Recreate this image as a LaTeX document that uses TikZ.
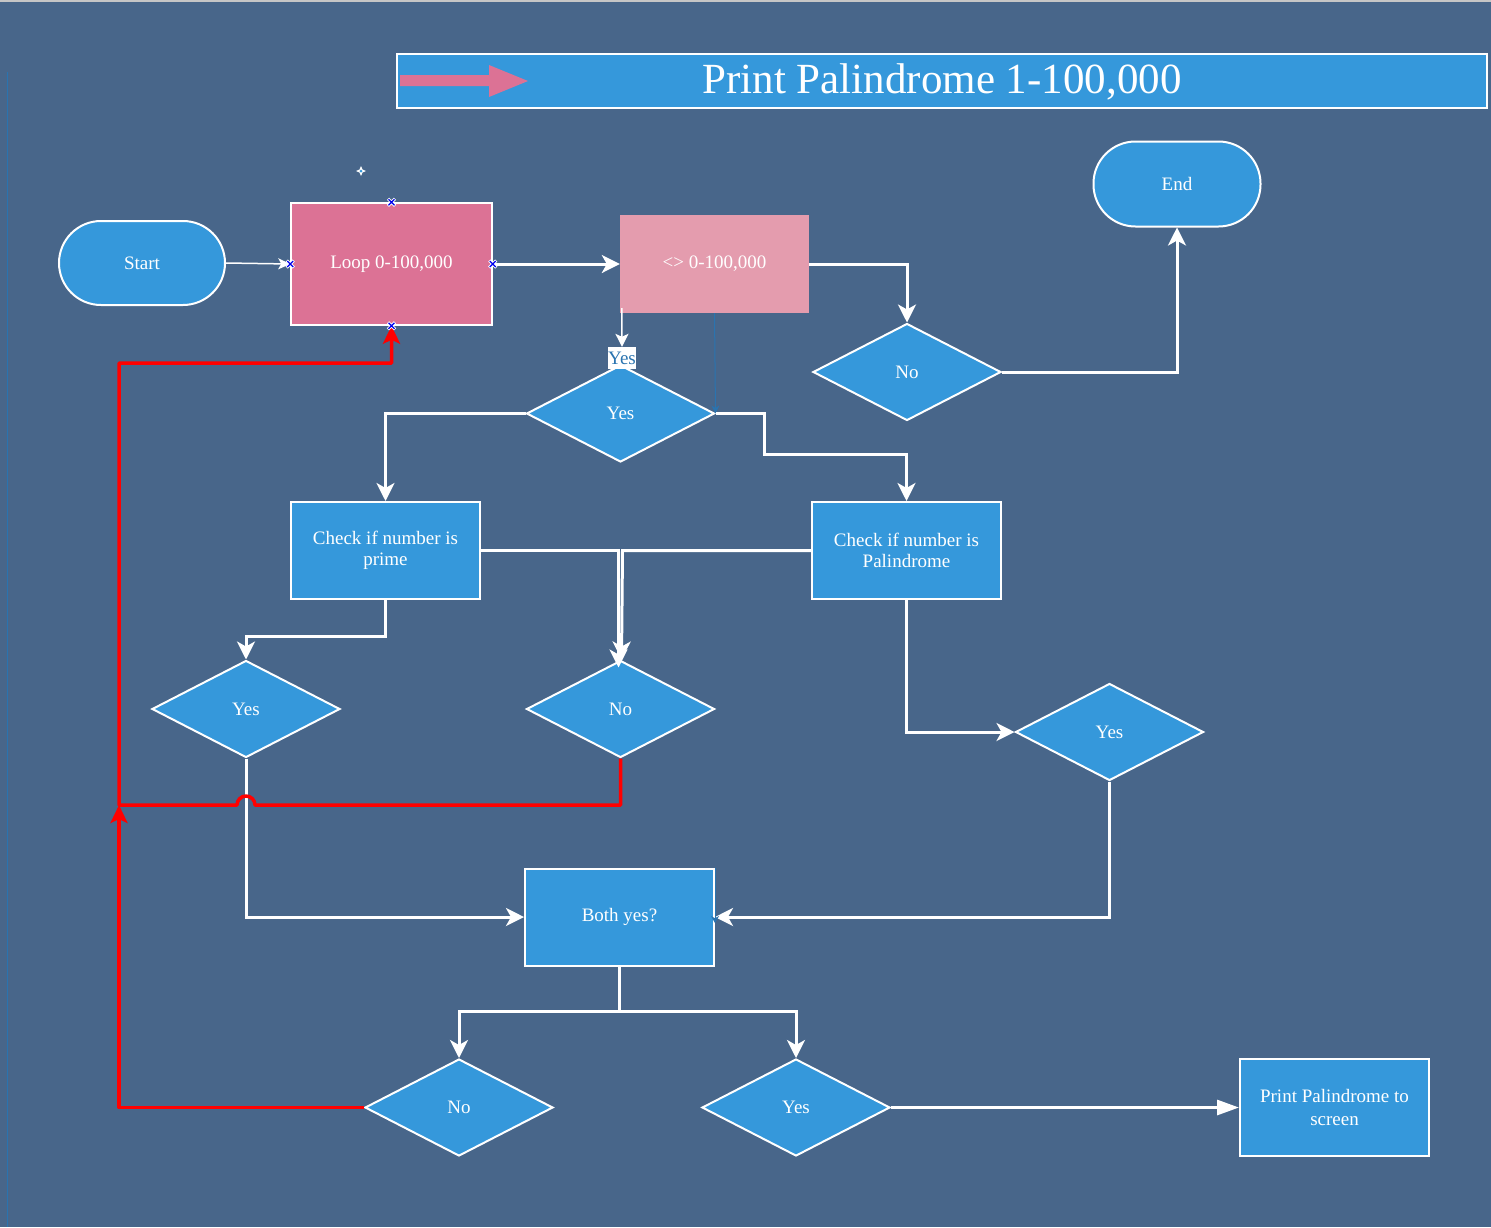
\documentclass[tikz,border=0pt]{standalone}
\usepackage{fontspec}
\setmainfont{Liberation Serif}
\usetikzlibrary{shapes.geometric,arrows.meta,calc}
\definecolor{bgc}{HTML}{48668A}
\definecolor{boxc}{HTML}{3598DB}
\definecolor{loopc}{HTML}{DC7295}
\definecolor{zeroc}{HTML}{E49CAE}
\definecolor{redc}{HTML}{FF0000}
\definecolor{thinblue}{HTML}{2A74B0}
\definecolor{markblue}{HTML}{0000EE}
\tikzset{
  every node/.style={font=\fontsize{19}{23}\selectfont, text=white, align=center},
  procbox/.style={rectangle, draw=white, line width=2pt, fill=boxc, minimum width=189pt, minimum height=97pt, inner sep=0pt},
  decision/.style={diamond, draw=white, line width=2pt, fill=boxc, minimum width=188pt, minimum height=97pt, inner sep=0pt},
  terminal/.style={rectangle, rounded corners=42pt, draw=white, line width=2pt, fill=boxc, minimum width=166pt, minimum height=84pt, inner sep=0pt},
  flow/.style={draw=white, line width=3pt, -{Stealth[length=18pt,width=18pt,inset=5pt]}},
  flowplain/.style={draw=white, line width=3pt},
  redflow/.style={draw=redc, line width=3.5pt, -{Stealth[length=18pt,width=17pt,inset=4pt]}, line join=round},
  xmark/.pic={\draw[white,line width=3pt] (-3.5,-3.5)--(3.5,3.5) (-3.5,3.5)--(3.5,-3.5);
              \draw[markblue,line width=1.2pt] (-3,-3)--(3,3) (-3,3)--(3,-3);}
}
\begin{document}
\begin{tikzpicture}[x=1pt,y=-1pt]
\fill[bgc] (0,0) rectangle (1491,1227);
\useasboundingbox (0,0) rectangle (1491,1227);
\fill[gray!45] (0,0) rectangle (1491,2);
\draw[thinblue,line width=0.6pt] (7,72) -- (7,1227);

% title
\node[rectangle, draw=white, line width=2pt, fill=boxc, minimum width=1090pt, minimum height=54pt, inner sep=0pt] (title) at (942,81) {};
\node[font=\fontsize{43}{50}\selectfont] (ttext) at (942,82) {Print Palindrome 1-100,000};
\fill[loopc] (400,75) -- (489,75) -- (489,65) -- (528,81) -- (489,97) -- (489,86) -- (400,86) -- cycle;

% nodes
\node[terminal] (start) at (142,263) {Start};
\node[terminal, minimum width=167pt, minimum height=85pt] (end) at (1177,184) {End};
\node[rectangle, draw=white, line width=1.5pt, fill=loopc, minimum width=201pt, minimum height=122pt, inner sep=0pt] (loop) at (391.5,264) {\raisebox{-2pt}{Loop 0-100,000}};
\node[rectangle, fill=zeroc, minimum width=189pt, minimum height=98pt, inner sep=0pt] (zero) at (714.5,264) {\raisebox{-2pt}{\textless\textgreater\ 0-100,000}};
\node[decision] (topno) at (907,372) {No};
\node[decision] (topyes) at (620.5,413.5) {Yes};
\node[procbox] (prime) at (385.5,550.5) {\raisebox{-2pt}{Check if number is}\\prime};
\node[procbox] (pal) at (906.5,550.5) {\raisebox{-2pt}{Check if number is}\\Palindrome};
\node[decision] (lyes) at (246,709) {Yes};
\node[decision] (mno) at (620.5,709) {No};
\node[decision] (ryes) at (1109.5,732) {Yes};
\node[procbox] (both) at (619.5,917) {\raisebox{-2pt}{Both yes?}};
\node[decision] (bno) at (459,1107.5) {No};
\node[decision] (byes) at (796,1107.5) {Yes};
\node[procbox] (print) at (1334.5,1107.5) {Print Palindrome to\\screen};
\node[rectangle, fill=white, text=thinblue, inner sep=0.5pt, minimum width=28pt, minimum height=22pt] (ylbl) at (622,358) {Yes};

% connectors
\draw[white, line width=1.5pt, -{Stealth[length=12pt,width=11pt,inset=3pt]}] (start.east) -- (loop.west);
\draw[flow] (loop.east) -- (zero.west);
\draw[flow] (zero.east) -| (topno.north);
\draw[flow] (topno.east) -| (end.south);
\draw[white, line width=1.5pt, -{Stealth[length=13pt,width=13pt,inset=3pt]}] ([xshift=2pt,yshift=5pt]zero.south west) -- (ylbl.north);
\draw[thinblue, line width=1pt, -{Stealth[length=8pt,width=8pt]}] (zero.south) -- (topyes.east);
\draw[flow] (topyes.west) -| (prime.north);
\draw[flow] (topyes.east) -- (764,413.5) -- (764,454) -| (pal.north);
\draw[flow] (prime.east) -- (618.5,550.5) -- ([xshift=-2pt,yshift=-8pt]mno.north);
\draw[flow] (pal.west) -- (622.5,550.5) -- ([xshift=1pt]mno.north);
\draw[flow] (prime.south) -- (385.5,636) -| (lyes.north);
\draw[flow] (pal.south) |- (ryes.west);
\draw[flow] (ryes.south) |- (both.east);
\draw[flow] (lyes.south) |- (both.west);
\draw[thinblue, line width=0.8pt, -{Stealth[length=7pt,width=8pt]}] (both.north east) -- ([yshift=-6pt]both.east);
\draw[flowplain] (both.south) -- (619.5,1011);
\draw[flow] (619.5,1011) -| (bno.north);
\draw[flow] (619.5,1011) -| (byes.north);
\draw[white, line width=3pt, -{Triangle[length=22pt,width=15pt]}] (byes.east) -- (print.west);

% red loops
\coordinate (rj) at (119,805);
\draw[redflow] (bno.west) -| (rj);
\draw[redflow] (mno.south) |- (255,805) arc[start angle=0, end angle=180, radius=9pt] -- (rj) -- (119,363) -| (loop.south);

% editor markers
\pic at (loop.north) {xmark};
\pic at (loop.south) {xmark};
\pic at (loop.west) {xmark};
\pic at (loop.east) {xmark};
\begin{scope}[shift={(361,171)}]
\fill[white] (0,-5) -- (1.5,-1.5) -- (5,0) -- (1.5,1.5) -- (0,5) -- (-1.5,1.5) -- (-5,0) -- (-1.5,-1.5) -- cycle;
\fill[boxc] (0,0) circle (1.5pt);
\end{scope}
\end{tikzpicture}
\end{document}
